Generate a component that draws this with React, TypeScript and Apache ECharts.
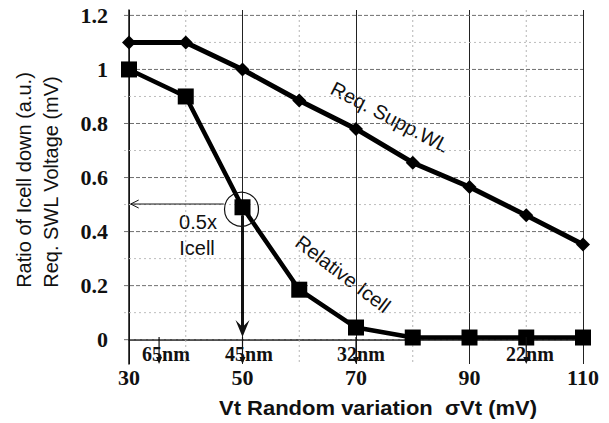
import React, { useEffect, useRef } from "react";
import * as echarts from "echarts";

// Sigma-Vt sweep (mV) and the two measured curves
const sigmaVt = [30, 40, 50, 60, 70, 80, 90, 100, 110];
const reqSuppWL = [1.1, 1.1, 1.0, 0.885, 0.78, 0.655, 0.565, 0.46, 0.352];
const relativeIcell = [1.0, 0.9, 0.49, 0.185, 0.045, 0.008, 0.008, 0.008, 0.008];

// Axis ticks
const xTicks = [30, 50, 70, 90, 110];
const yTicks = [0, 0.2, 0.4, 0.6, 0.8, 1.0, 1.2];
const yMinorGrid = [0.1, 0.3, 0.5, 0.7, 0.9, 1.1];
const xMinorGrid = [40, 60, 80, 100];

// Technology nodes marked along the sigma-Vt axis
const nodeNames = ["65nm", "45nm", "32nm", "22nm"];
const nodeSigma = [35.3, 50, 70, 100];

// Half-current operating point
const halfPoint = [50, 0.49];
const halfLevel = 0.502;

const serifBold = "'Liberation Serif', 'DejaVu Serif', serif";
const sans = "'Liberation Sans', Arial, sans-serif";

function fmtTick(v: number): string {
  if (Math.abs(v) < 1e-9) return "0";
  if (Math.abs(v - 1) < 1e-9) return "1";
  return v.toFixed(1);
}

export default function App() {
  const ref = useRef<HTMLDivElement>(null);

  useEffect(() => {
    if (!ref.current) return;
    const chart = echarts.init(ref.current, undefined, { renderer: "svg" });

    // background grid, drawn under the curves
    const gridSeries = {
      type: "custom",
      silent: true,
      z: 1,
      data: [[0]],
      renderItem: (_params: any, api: any) => {
        const children: any[] = [];
        const hLine = (v: number, stroke: string, dash: number[]) => {
          const a = api.coord([30, v]);
          const b = api.coord([110, v]);
          children.push({
            type: "line",
            shape: { x1: a[0] - 5, y1: a[1], x2: b[0], y2: b[1] },
            style: { stroke, lineWidth: 1, lineDash: dash },
          });
        };
        yMinorGrid.forEach((v) => hLine(v, "#bdbdbd", [2, 3]));
        yTicks.forEach((v) => hLine(v, "#6f6f6f", [4, 2]));
        xMinorGrid.forEach((x) => {
          const a = api.coord([x, 1.22]);
          const b = api.coord([x, -0.09]);
          children.push({
            type: "line",
            shape: { x1: a[0], y1: a[1], x2: b[0], y2: b[1] },
            style: { stroke: "#b5b5b5", lineWidth: 1, lineDash: [2, 3] },
          });
        });
        return { type: "group", children };
      },
    };

    const annotationSeries = {
      type: "custom",
      silent: true,
      clip: false,
      z: 5,
      data: [[0]],
      renderItem: (_params: any, api: any) => {
        const children: any[] = [];
        const [cx, cy] = api.coord(halfPoint);
        // circle around the half-current point
        children.push({
          type: "circle",
          shape: { cx: cx - 1, cy: cy + 2, r: 17 },
          style: { fill: "none", stroke: "#111", lineWidth: 1.2 },
        });
        // horizontal arrow to the y axis
        const hStart = api.coord([46.7, halfLevel]);
        const hEnd = api.coord([30.3, halfLevel]);
        children.push({
          type: "line",
          shape: { x1: hStart[0], y1: hStart[1], x2: hEnd[0], y2: hEnd[1] },
          style: { stroke: "#111", lineWidth: 1 },
        });
        children.push({
          type: "polyline",
          shape: {
            points: [
              [hEnd[0] + 8, hEnd[1] - 4],
              [hEnd[0], hEnd[1]],
              [hEnd[0] + 8, hEnd[1] + 4],
            ],
          },
          style: { fill: "none", stroke: "#111", lineWidth: 1 },
        });
        // thick arrow down to the x axis
        const vTip = api.coord([50, 0.01]);
        children.push({
          type: "line",
          shape: { x1: cx, y1: cy + 8, x2: vTip[0], y2: vTip[1] - 6 },
          style: { stroke: "#111", lineWidth: 3 },
        });
        children.push({
          type: "polygon",
          shape: {
            points: [
              [vTip[0], vTip[1]],
              [vTip[0] - 7, vTip[1] - 17],
              [vTip[0], vTip[1] - 10],
              [vTip[0] + 7, vTip[1] - 17],
            ],
          },
          style: { fill: "#111" },
        });
        // small node markers down to the axis line
        nodeSigma.forEach((s) => {
          const top = api.coord([s, 0.01]);
          const bot = api.coord([s, -0.09]);
          children.push({
            type: "line",
            shape: { x1: top[0], y1: top[1], x2: bot[0], y2: bot[1] - 2 },
            style: { stroke: "#111", lineWidth: 1.2 },
          });
          children.push({
            type: "polygon",
            shape: {
              points: [
                [bot[0], bot[1]],
                [bot[0] - 3, bot[1] - 7],
                [bot[0] + 3, bot[1] - 7],
              ],
            },
            style: { fill: "#111" },
          });
        });
        return { type: "group", children };
      },
    };

    const nodeLabelX = [166, 249, 361, 530];

    chart.setOption({
      animation: false,
      backgroundColor: "#ffffff",
      grid: { left: 129, right: 26, top: 10, bottom: 59 },
      xAxis: {
        type: "value",
        min: 30,
        max: 110,
        interval: 20,
        axisLine: { show: true, lineStyle: { color: "#111", width: 1.5 } },
        axisTick: { show: false },
        axisLabel: {
          color: "#111",
          fontFamily: serifBold,
          fontWeight: "bold",
          fontSize: 22,
          margin: 2,
          customValues: xTicks,
        },
        splitLine: { show: true, lineStyle: { color: "#222", width: 1 } },
      },
      yAxis: {
        type: "value",
        min: -0.09,
        max: 1.22,
        axisLine: { show: true, lineStyle: { color: "#111", width: 1.5 } },
        axisTick: { show: false },
        axisLabel: {
          color: "#111",
          fontFamily: serifBold,
          fontWeight: "bold",
          fontSize: 22,
          margin: 21,
          customValues: yTicks,
          formatter: (v: number) => fmtTick(v),
        },
        splitLine: { show: false },
      },
      graphic: [
        {
          type: "text",
          x: 24,
          y: 180,
          rotation: Math.PI / 2,
          style: {
            text: "Ratio of Icell down (a.u.)",
            font: `20px ${sans}`,
            fill: "#111",
            align: "center",
            verticalAlign: "middle",
          },
        },
        {
          type: "text",
          x: 51,
          y: 182,
          rotation: Math.PI / 2,
          style: {
            text: "Req. SWL Voltage (mV)",
            font: `20px ${sans}`,
            fill: "#111",
            align: "center",
            verticalAlign: "middle",
          },
        },
        {
          type: "text",
          x: 378,
          y: 408,
          scaleX: 1.1,
          style: {
            text: "Vt Random variation  σVt (mV)",
            font: `bold 20px ${sans}`,
            fill: "#111",
            align: "center",
            verticalAlign: "middle",
          },
        },
        {
          type: "text",
          x: 198,
          y: 222,
          style: {
            text: "0.5x",
            font: `20px ${sans}`,
            fill: "#111",
            align: "center",
            verticalAlign: "middle",
          },
        },
        {
          type: "text",
          x: 197,
          y: 248,
          style: {
            text: "Icell",
            font: `20px ${sans}`,
            fill: "#111",
            align: "center",
            verticalAlign: "middle",
          },
        },
        {
          type: "text",
          x: 390,
          y: 117,
          rotation: -0.48,
          style: {
            text: "Req. Supp.WL",
            font: `20px ${sans}`,
            fill: "#111",
            align: "center",
            verticalAlign: "middle",
          },
        },
        {
          type: "text",
          x: 343,
          y: 274,
          rotation: -0.65,
          style: {
            text: "Relative Icell",
            font: `20px ${sans}`,
            fill: "#111",
            align: "center",
            verticalAlign: "middle",
          },
        },
        ...nodeNames.map((n, i) => ({
          type: "text",
          x: nodeLabelX[i],
          y: 354,
          style: {
            text: n,
            font: `bold 20px ${serifBold}`,
            fill: "#111",
            align: "center",
            verticalAlign: "middle",
          },
        })),
      ],
      series: [
        gridSeries,
        {
          type: "line",
          name: "Req. Supp.WL",
          data: sigmaVt.map((x, i) => [x, reqSuppWL[i]]),
          symbol: "diamond",
          symbolSize: 14,
          lineStyle: { color: "#000", width: 5 },
          itemStyle: { color: "#000" },
          z: 3,
        },
        {
          type: "line",
          name: "Relative Icell",
          data: sigmaVt.map((x, i) => [x, relativeIcell[i]]),
          symbol: "rect",
          symbolSize: 16,
          lineStyle: { color: "#000", width: 4.5 },
          itemStyle: { color: "#000" },
          z: 3,
        },
        annotationSeries,
      ],
    });

    return () => chart.dispose();
  }, []);

  return (
    <div
      ref={ref}
      style={{ position: "fixed", left: 0, top: 0, width: 609, height: 423 }}
    />
  );
}
